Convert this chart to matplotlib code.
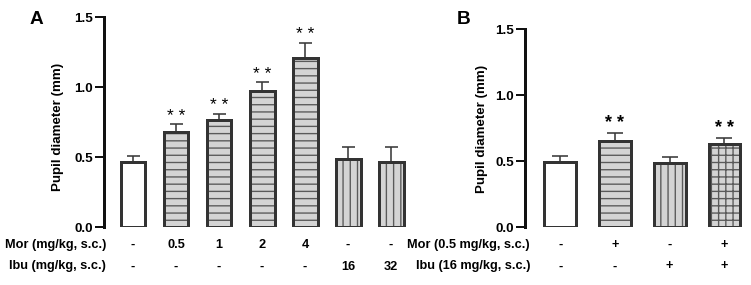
"""Pupil diameter bar charts, panels A and B."""

import matplotlib

matplotlib.use("Agg")
import matplotlib.pyplot as plt
import matplotlib.transforms as mtransforms
import numpy as np

DPI = 130
W_PX, H_PX = 751, 285
PT = 72 / DPI  # points per pixel

# ---- data, panel A
a_mor = ["-", "0.5", "1", "2", "4", "-", "-"]
a_ibu = ["-", "-", "-", "-", "-", "16", "32"]
a_mean = [0.465, 0.68, 0.765, 0.975, 1.21, 0.485, 0.465]
a_sem = [0.046, 0.055, 0.046, 0.060, 0.109, 0.091, 0.109]
a_hatch = [None, "---", "---", "---", "---", "|||", "|||"]
a_sig = [False, True, True, True, True, False, False]

# ---- data, panel B
b_mor = ["-", "+", "-", "+"]
b_ibu = ["-", "-", "+", "+"]
b_mean = [0.49, 0.656, 0.487, 0.633]
b_sem = [0.050, 0.058, 0.043, 0.043]
b_hatch = [None, "---", "|||", "+++"]
b_sig = [False, True, False, True]

y_ticks = [0.0, 0.5, 1.0, 1.5]

EDGE = "#333333"
FILL = "#d4d4d4"
HATCH = "#5a5a5a"
FONT = ["Liberation Sans", "DejaVu Sans"]

plt.rcParams["font.family"] = FONT
plt.rcParams["font.weight"] = "bold"
plt.rcParams["hatch.linewidth"] = 0.75


def fx(x):
    return x / W_PX


def fy(y):
    return 1 - y / H_PX


def draw_panel(fig, rect, xlim, means, sems, hatches, sig, star_px, star_weight,
               cap_px, row_vals, row_names, row_right, letter, letter_xy, ylabel_xy):
    """Draw one bar panel with its condition rows underneath."""
    ax = fig.add_axes(rect)
    x = np.arange(len(means))
    width = 0.58

    fills = ["white" if h is None else FILL for h in hatches]
    # fill + hatch layer
    bars = ax.bar(x, means, width=width, color=fills, edgecolor=HATCH,
                  linewidth=0, zorder=2)
    for b, h in zip(bars, hatches):
        if h:
            b.set_hatch(h)
    # outline layer
    ax.bar(x, means, width=width, fill=False, edgecolor=EDGE,
           linewidth=3 * PT, zorder=4)

    ax.errorbar(x, means, yerr=[np.zeros(len(sems)), sems], fmt="none",
                ecolor="#3a3a3a", elinewidth=1.6 * PT, capsize=cap_px * PT,
                capthick=1.6 * PT, zorder=3)

    for xi, m, s, flag in zip(x, means, sems, sig):
        if flag:
            ax.annotate("* *", (xi, m + s), xytext=(0, 0.5 * PT),
                        textcoords="offset points", ha="center", va="bottom",
                        fontsize=star_px * PT, fontweight=star_weight,
                        color="black")

    ax.set_xlim(*xlim)
    ax.set_ylim(0, 1.5)
    ax.set_yticks(y_ticks)
    ax.set_yticklabels([f"{t:.1f}" for t in y_ticks])
    ax.set_xticks([])
    for side in ("top", "right", "bottom"):
        ax.spines[side].set_visible(False)
    ax.spines["left"].set_linewidth(3 * PT)
    ax.spines["left"].set_color("#111111")
    ax.tick_params(axis="y", length=9 * PT, width=2 * PT, pad=2 * PT,
                   labelsize=13.5 * PT, color="#111111")
    for lab in ax.get_yticklabels():
        lab.set_fontweight("bold")

    # condition rows under the bars
    trans = mtransforms.blended_transform_factory(ax.transData, fig.transFigure)
    row_y = [245, 266.5]
    for vals, name, ry in zip(row_vals, row_names, row_y):
        fig.text(fx(row_right), fy(ry), name, ha="right", va="center",
                 fontsize=12.7 * PT, fontweight="bold")
        for xi, v in zip(x, vals):
            ax.text(xi, fy(ry), v, transform=trans, ha="center", va="center",
                    fontsize=12.7 * PT, fontweight="bold", clip_on=False)

    fig.text(fx(ylabel_xy[0]), fy(ylabel_xy[1]), "Pupil diameter (mm)",
             rotation=90, ha="center", va="center", fontsize=13.4 * PT,
             fontweight="bold")
    fig.text(fx(letter_xy[0]), fy(letter_xy[1]), letter, ha="center",
             va="center", fontsize=19 * PT, fontweight="bold")
    return ax


fig = plt.figure(figsize=(W_PX / DPI, H_PX / DPI), dpi=DPI)

draw_panel(
    fig,
    [fx(104), fy(227.3), 306 / W_PX, 210 / H_PX],
    (-0.674, 6.44),
    a_mean, a_sem, a_hatch, a_sig, 17.5, "normal", 6.5,
    [a_mor, a_ibu], ["Mor (mg/kg, s.c.)", "Ibu (mg/kg, s.c.)"], 106,
    "A", (36, 19.5), (57.5, 126.5),
)
draw_panel(
    fig,
    [fx(525), fy(227), 220 / W_PX, 197.7 / H_PX],
    (-0.645, 3.377),
    b_mean, b_sem, b_hatch, b_sig, 18, "bold", 8,
    [b_mor, b_ibu], ["Mor (0.5 mg/kg, s.c.)", "Ibu (16 mg/kg, s.c.)"], 530,
    "B", (464, 19), (482, 128.5),
)

fig.savefig("out.png", dpi=DPI, facecolor="white")
